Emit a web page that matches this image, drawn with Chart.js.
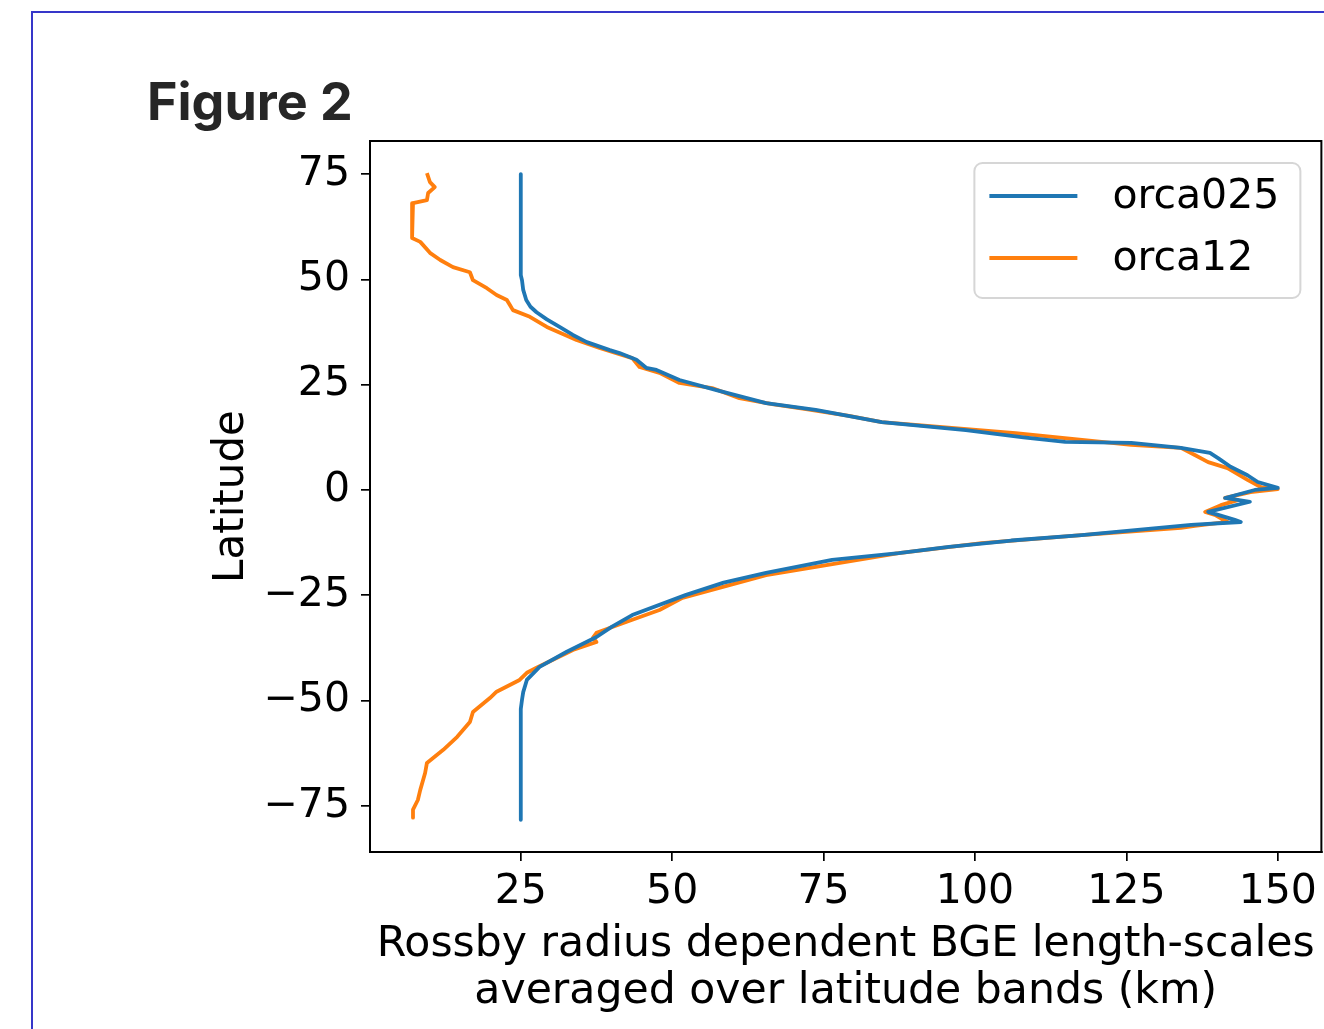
<!DOCTYPE html>
<html><head><meta charset="utf-8">
<script src="https://cdn.jsdelivr.net/npm/chart.js@4.4.0/dist/chart.umd.min.js"></script>
<style>
html,body{margin:0;padding:0;background:#fff;width:1324px;height:1029px;overflow:hidden;}
#frame{position:absolute;left:31px;top:11px;width:1400px;height:1100px;border-left:2px solid #3636c9;border-top:2px solid #3636c9;}
#title{position:absolute;left:147px;top:72px;font-family:Inter;font-weight:700;font-size:52px;line-height:60px;color:#262626;white-space:nowrap;letter-spacing:0px;}
#c{position:absolute;left:0;top:0;}
</style></head><body>
<div id="frame"></div>
<div id="title">Figure 2</div>
<canvas id="c" width="1324" height="1029"></canvas>
<script>
// ---- data ----
const seriesNames = ['orca025', 'orca12'];
const seriesColors = ['#1f77b4', '#ff7f0e'];

const orca025Lat = [75.0, 51.0, 49.8, 47.5, 45.1, 43.5, 42.2, 40.5, 38.7, 36.8, 35.1, 33.2, 32.5, 30.9, 29.0, 28.5, 26.1, 23.7, 20.6, 19.0, 17.5, 16.1, 14.2, 12.5, 11.4, 11.2, 10.0, 8.8, 7.5, 5.5, 3.5, 1.9, 0.5, 0.0, -1.9, -2.8, -5.2, -7.1, -7.6, -8.3, -10.7, -12.0, -13.5, -15.0, -16.6, -19.7, -22.0, -24.9, -29.7, -32.5, -34.9, -38.4, -42.0, -45.1, -48.0, -49.8, -52.0, -78.3];
const orca025Len = [25.0, 25.0, 25.2, 25.4, 25.9, 26.6, 27.6, 29.3, 31.4, 33.6, 35.9, 39.7, 41.3, 44.1, 45.7, 47.4, 51.2, 57.3, 65.5, 73.7, 79.5, 84.6, 98.5, 108.0, 114.9, 125.8, 134.0, 138.8, 140.2, 142.2, 145.0, 146.7, 150.0, 146.2, 141.3, 145.4, 138.5, 142.9, 143.9, 135.7, 117.6, 106.0, 95.7, 87.4, 76.4, 65.5, 58.5, 52.3, 43.4, 40.0, 37.5, 32.6, 28.1, 26.0, 25.4, 25.2, 25.0, 25.0];

const orca12Lat = [75.2, 73.1, 71.9, 70.5, 68.8, 68.1, 59.8, 58.9, 56.3, 54.6, 52.9, 51.7, 49.8, 47.9, 46.3, 45.1, 43.9, 42.7, 41.1, 38.7, 35.6, 33.7, 31.3, 29.2, 27.8, 25.4, 24.2, 21.8, 20.4, 19.2, 17.6, 16.1, 13.5, 10.7, 10.0, 8.3, 6.6, 5.2, 2.4, 0.7, 0.2, -0.5, -1.9, -2.4, -3.6, -5.2, -5.9, -7.6, -8.5, -9.0, -10.7, -12.6, -15.0, -20.2, -25.6, -28.5, -31.3, -33.9, -35.1, -36.1, -38.0, -38.7, -42.2, -43.4, -45.1, -47.9, -49.4, -52.7, -55.1, -58.6, -61.7, -64.8, -67.2, -71.2, -73.6, -75.9, -77.8];
const orca12Len = [9.5, 10.0, 10.8, 9.7, 9.5, 7.2, 7.05, 8.4, 10.0, 11.7, 13.8, 16.6, 17.1, 19.4, 21.0, 22.7, 23.2, 23.7, 26.5, 29.3, 34.2, 38.0, 43.4, 44.6, 47.9, 51.2, 56.6, 61.1, 66.5, 72.1, 79.2, 84.6, 106.7, 125.8, 134.0, 136.3, 138.5, 141.7, 145.0, 147.2, 150.0, 145.5, 141.3, 143.4, 140.6, 138.0, 139.6, 141.7, 136.3, 134.0, 117.6, 101.1, 87.4, 65.5, 51.7, 47.9, 42.5, 37.5, 36.9, 37.5, 33.6, 32.6, 27.6, 26.0, 24.8, 21.0, 19.9, 17.1, 16.6, 14.5, 12.2, 9.5, 9.2, 8.4, 8.0, 7.2, 7.2];

const xTickValues = [25, 50, 75, 100, 125, 150];
const yTickValues = [-75, -50, -25, 0, 25, 50, 75];
const xTitleLines = ['Rossby radius dependent BGE length-scales', 'averaged over latitude bands (km)'];
const yTitle = 'Latitude';

// ---- chart ----
const toPoints = (xs, ys) => xs.map((v, i) => ({x: v, y: ys[i]}));
const fmt = v => (v < 0 ? '\u2212' + Math.abs(v) : String(v));

const frameLegendPlugin = {
  id: 'frameLegend',
  afterDraw(chart) {
    const {ctx, chartArea: a} = chart;
    ctx.save();
    ctx.strokeStyle = '#000';
    ctx.lineWidth = 2;
    ctx.strokeRect(a.left, a.top, a.right - a.left, a.bottom - a.top);
    const w = 326, h = 135;
    const x = a.right - 21 - w, y = a.top + 22;
    ctx.beginPath();
    ctx.roundRect(x, y, w, h, 8);
    ctx.fillStyle = 'rgba(255,255,255,0.8)';
    ctx.fill();
    ctx.lineWidth = 2;
    ctx.strokeStyle = '#d6d6d6';
    ctx.stroke();
    chart.data.datasets.forEach((ds, i) => {
      const cy = y + 33 + i * 62;
      ctx.beginPath();
      ctx.moveTo(x + 15, cy);
      ctx.lineTo(x + 103, cy);
      ctx.strokeStyle = ds.borderColor;
      ctx.lineWidth = ds.borderWidth;
      ctx.stroke();
      ctx.fillStyle = '#000';
      ctx.font = '41px "DejaVu Sans"';
      ctx.textBaseline = 'middle';
      ctx.textAlign = 'left';
      ctx.fillText(ds.label, x + 138, cy + 1);
    });
    ctx.restore();
  }
};

const tickFont = {family: 'DejaVu Sans', size: 41};
new Chart(document.getElementById('c'), {
  type: 'scatter',
  data: {
    datasets: [
      {label: seriesNames[0], data: toPoints(orca025Len, orca025Lat), borderColor: seriesColors[0], backgroundColor: seriesColors[0]},
      {label: seriesNames[1], data: toPoints(orca12Len, orca12Lat), borderColor: seriesColors[1], backgroundColor: seriesColors[1]}
    ].map(d => Object.assign(d, {showLine: true, borderWidth: 3.8, pointRadius: 0, tension: 0, fill: false, borderJoinStyle: 'round', borderCapStyle: 'butt'}))
  },
  options: {
    responsive: false, animation: false, devicePixelRatio: 1,
    layout: {padding: {left: 0, top: 141, right: 2, bottom: 0}},
    plugins: {legend: {display: false}, tooltip: {enabled: false}},
    scales: {
      x: {
        type: 'linear', position: 'bottom', min: 0.1, max: 157.2,
        afterBuildTicks: s => { s.ticks = xTickValues.map(v => ({value: v})); },
        afterFit: s => { s.height = 1029 - 852; },
        ticks: {font: tickFont, color: '#000', padding: 7, maxRotation: 0, autoSkip: false, callback: v => fmt(v)},
        grid: {drawOnChartArea: false, drawTicks: true, tickLength: 9, color: '#000', lineWidth: 1.7},
        border: {display: true, color: '#000', width: 2},
        title: {display: true, text: xTitleLines, color: '#000', font: {family: 'DejaVu Sans', size: 42.6, lineHeight: 1.1}, padding: {top: 0, bottom: 14}}
      },
      y: {
        type: 'linear', position: 'left', min: -85.95, max: 82.85,
        afterBuildTicks: s => { s.ticks = yTickValues.map(v => ({value: v})); },
        afterFit: s => { s.width = 370; },
        ticks: {font: tickFont, color: '#000', padding: 11, autoSkip: false, callback: v => fmt(v)},
        grid: {drawOnChartArea: false, drawTicks: true, tickLength: 9, color: '#000', lineWidth: 1.7},
        border: {display: true, color: '#000', width: 2},
        title: {display: true, text: yTitle, color: '#000', font: {family: 'DejaVu Sans', size: 42, lineHeight: 1.2}, padding: {top: 207, bottom: 0}}
      }
    }
  },
  plugins: [frameLegendPlugin]
});
</script>
</body></html>
